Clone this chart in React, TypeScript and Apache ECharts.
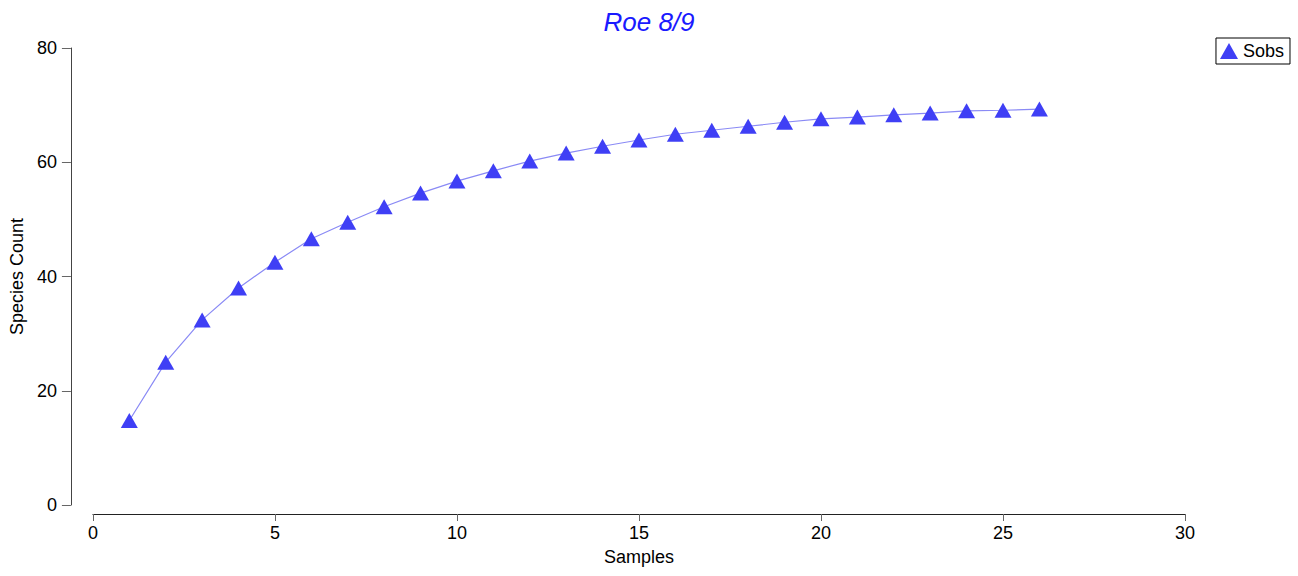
import React, { useEffect, useRef } from "react";
import * as echarts from "echarts";

const samples = [1, 2, 3, 4, 5, 6, 7, 8, 9, 10, 11, 12, 13, 14, 15, 16, 17, 18, 19, 20, 21, 22, 23, 24, 25, 26];
const sobs = [14.8, 25.0, 32.4, 38.0, 42.5, 46.6, 49.5, 52.2, 54.6, 56.7, 58.5, 60.2, 61.6, 62.8, 63.9, 64.9, 65.6, 66.3, 67.0, 67.6, 67.9, 68.3, 68.6, 69.0, 69.1, 69.3];
const xTicks = { min: 0, max: 30, interval: 5 };
const yTicks = { min: 0, max: 80, interval: 20 };

export default function App() {
  const ref = useRef<HTMLDivElement>(null);
  useEffect(() => {
    const chart = echarts.init(ref.current!, null, { renderer: "svg" });
    const font = "'Liberation Sans', Arial, sans-serif";
    chart.setOption({
      animation: false,
      title: {
        text: "Roe 8/9",
        left: "center",
        top: 4,
        textStyle: { color: "#1a1aff", fontStyle: "italic", fontWeight: "normal", fontSize: 26, fontFamily: font },
      },
      legend: {
        right: 8,
        top: 38,
        orient: "vertical",
        borderColor: "#000",
        borderWidth: 1,
        borderRadius: 0,
        padding: [4, 6, 4, 4],
        itemWidth: 18,
        itemHeight: 16,
        itemGap: 4,
        textStyle: { fontSize: 18, color: "#000", fontFamily: font },
        data: [{ name: "Sobs", icon: "triangle" }],
      },
      grid: { left: 91, right: 113, top: 48, bottom: 71, containLabel: false },
      xAxis: {
        type: "value",
        ...xTicks,
        offset: 9,
        name: "Samples",
        nameLocation: "middle",
        nameGap: 34,
        nameTextStyle: { fontSize: 18, color: "#000", fontFamily: font },
        axisLine: { show: true, onZero: false, lineStyle: { color: "#222", width: 1 } },
        axisTick: { show: true, length: 7, lineStyle: { color: "#666" } },
        axisLabel: { fontSize: 18, color: "#000", fontFamily: font, margin: 10 },
        splitLine: { show: false },
      },
      yAxis: {
        type: "value",
        ...yTicks,
        offset: 22,
        name: "Species Count",
        nameLocation: "middle",
        nameGap: 43,
        nameTextStyle: { fontSize: 18, color: "#000", fontFamily: font },
        axisLine: { show: true, onZero: false, lineStyle: { color: "#444", width: 1 } },
        axisTick: { show: true, length: 9, lineStyle: { color: "#666" } },
        axisLabel: { fontSize: 18, color: "#000", fontFamily: font, margin: 14 },
        splitLine: { show: false },
      },
      series: [
        {
          name: "Sobs",
          type: "line",
          data: samples.map((s, i) => [s, sobs[i]]),
          symbol: "triangle",
          symbolSize: [17, 15],
          itemStyle: { color: "#3f3ff5" },
          lineStyle: { color: "#8a8af5", width: 1.2 },
        },
      ],
    });
    return () => chart.dispose();
  }, []);
  return <div ref={ref} style={{ position: "absolute", left: 0, top: 0, width: 1298, height: 576 }} />;
}
